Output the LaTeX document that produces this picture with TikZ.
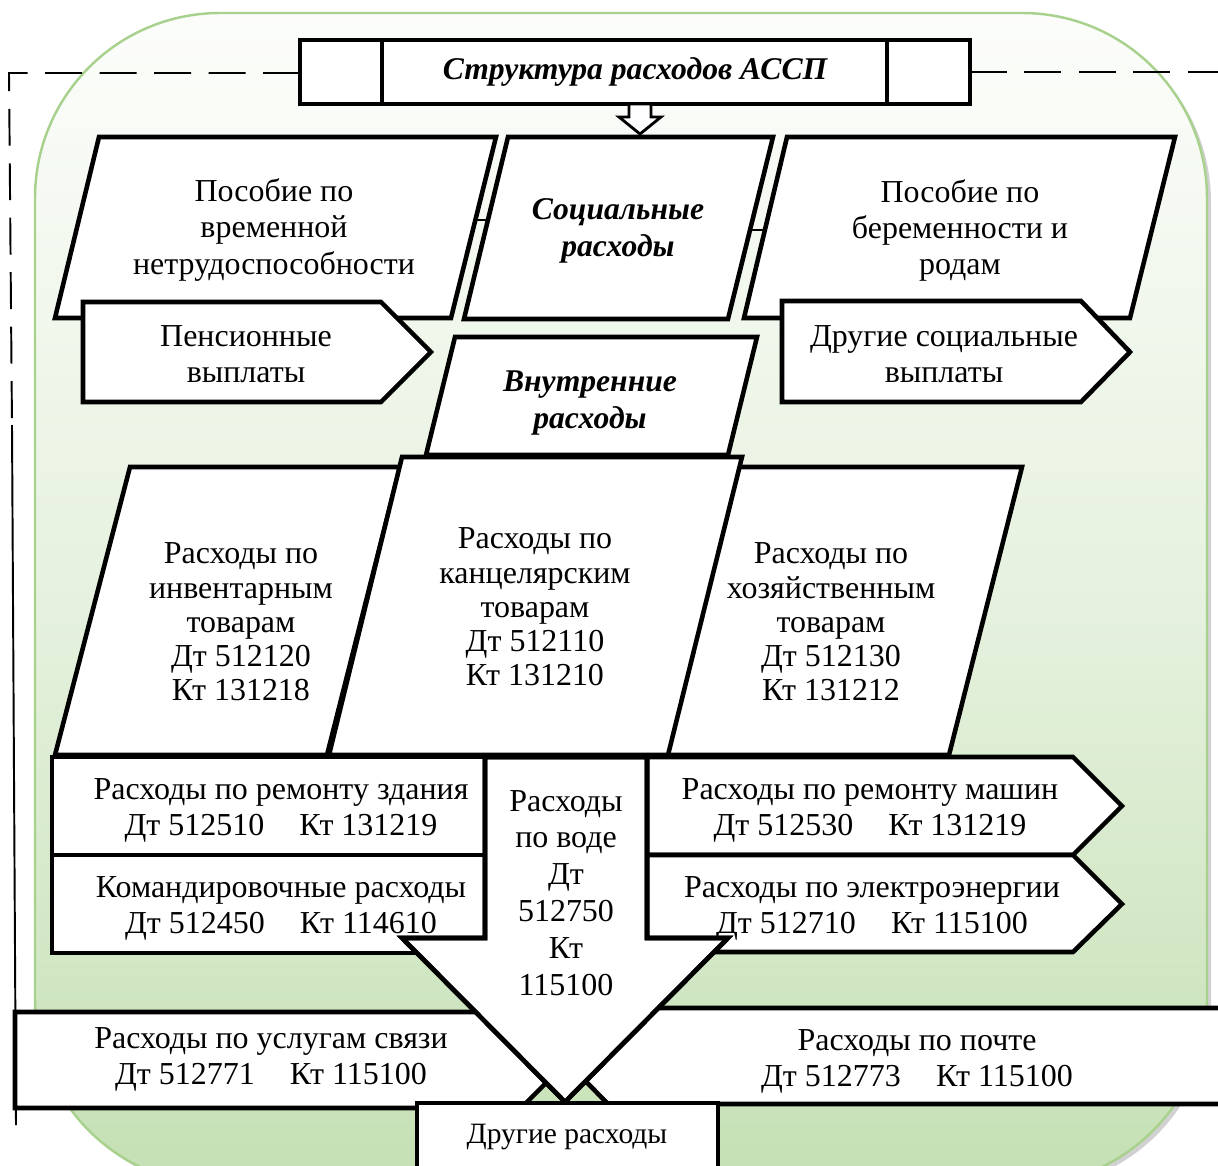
\documentclass[tikz,border=0pt]{standalone}
\usepackage{fontspec}
\setmainfont{Liberation Serif}
\definecolor{bgtop}{RGB}{252,253,251}
\definecolor{bgbot}{RGB}{197,224,180}
\definecolor{bgline}{RGB}{169,209,142}
\newcommand{\dtgap}{\hspace{1.1em}}
\newcommand{\waterarrow}{(485,757) -- (647,757) -- (647,938) -- (728,938) -- (565,1102) -- (402,938) -- (485,938) -- cycle}
\tikzset{
    blk/.style={draw=black, fill=white, line width=2.6pt, line join=miter},
    lbl/.style={align=center, inner sep=0pt, font=\fontsize{18.2}{20.5}\selectfont},
    lblt/.style={lbl, font=\fontsize{18.2}{19.5}\selectfont},
    lblw/.style={lbl, font=\fontsize{18.2}{21}\selectfont},
    head/.style={align=center, inner sep=0pt, font=\fontsize{18}{21.5}\selectfont\bfseries\itshape},
    frame/.style={line width=1.1pt, dash pattern=on 21pt off 10pt},
}

\begin{document}
\begin{tikzpicture}[x=0.02cm, y=-0.02cm]
    \clip (0,0) rectangle (1218,1166);
    % fond vert
    \fill[black!18, rounded corners=3.7cm] (39,17) rectangle (1211,1189);
    \shade[top color=bgtop, bottom color=bgbot, middle color=bgbot!40!bgtop, rounded corners=3.7cm] (35,13) rectangle (1207,1185);
    \draw[bgline, line width=1.4pt, rounded corners=3.7cm] (35,13) rectangle (1207,1185);
    % cadre en tirets
    \coordinate (fl) at (300,73);
    \coordinate (fr) at (970,72);
    \draw[frame] (fl) -- (9,73) -- (12,425);
    \draw[line width=1.1pt] (12,425) -- (16,1125);
    \draw[frame] (fr) -- (1218,72);
    % titre
    \draw[blk] (300,40) rectangle (970,104);
    \draw[blk] (382,40) -- (382,104);
    \draw[blk] (887,40) -- (887,104);
    % petite flèche
    \draw[line width=1.6pt, fill=white, line join=miter] (629,104) -- (651,104) -- (651,117) -- (661,117) -- (640,134) -- (619,117) -- (629,117) -- cycle;
    % liaisons fines
    \draw[line width=0.9pt] (474,220) -- (490,220);
    \draw[line width=0.9pt] (750,230) -- (766,230);
    % dépenses sociales
    \draw[blk] (99,137) -- (496,137) -- (451,318) -- (55,318) -- cycle;
    \draw[blk] (508,137) -- (773,137) -- (728,319) -- (464,319) -- cycle;
    \draw[blk] (787,137) -- (1175,137) -- (1130,318) -- (744,318) -- cycle;
    \draw[blk] (83,302) -- (381,302) -- (431,352) -- (381,402) -- (83,402) -- cycle;
    \draw[blk] (782,301) -- (1081,301) -- (1130,352) -- (1081,402) -- (782,402) -- cycle;
    % dépenses internes
    \draw[blk] (455,337) -- (757,337) -- (728,455) -- (426,455) -- cycle;
    \draw[blk] (130,467) -- (400,467) -- (327,755) -- (55,755) -- cycle;
    \draw[blk] (738,467) -- (1022,467) -- (949,755) -- (667,755) -- cycle;
    \draw[blk] (402,457) -- (742,457) -- (668,755) -- (329,755) -- cycle;
    \draw[blk] (52,757) rectangle (485,855);
    \draw[blk] (52,855) rectangle (485,953);
    \draw[blk] (647,757) -- (1073,757) -- (1122,806) -- (1073,855) -- (647,855) -- cycle;
    \draw[blk] (647,855) -- (1073,855) -- (1122,904) -- (1073,952) -- (647,952) -- cycle;
    \draw[blk] (15,1012) -- (521,1012) -- (569,1060) -- (521,1108) -- (15,1108) -- cycle;
    \draw[blk] (1240,1008) -- (608,1008) -- (561,1056) -- (608,1104) -- (1240,1104) -- cycle;
    \draw[blk] \waterarrow;
    \draw[blk] (417,1103) rectangle (718,1200);
    % textes
    \node[head] (ttl) at (635,72) {Структура расходов АССП};
    \node[lbl] (sick) at (274,230) {Пособие по\\временной\\нетрудоспособности};
    \node[head] (soc) at (618,231) {Социальные\\расходы};
    \node[lbl] (matern) at (960,230) {Пособие по\\беременности и\\родам};
    \node[lbl] (pens) at (246,354) {Пенсионные\\выплаты};
    \node[lbl] (othsoc) at (944,354) {Другие социальные\\выплаты};
    \node[head] (intern) at (590,403) {Внутренние\\расходы};
    \node[lblt] (inv) at (241,622) {Расходы по\\инвентарным\\товарам\\Дт 512120\\Кт 131218};
    \node[lblt] (office) at (535,607) {Расходы по\\канцелярским\\товарам\\Дт 512110\\Кт 131210};
    \node[lblt] (house) at (831,622) {Расходы по\\хозяйственным\\товарам\\Дт 512130\\Кт 131212};
    \node[lbl] (build) at (281,810) {Расходы по ремонту здания\\Дт 512510\dtgap Кт 131219};
    \node[lbl] (trip) at (281,908) {Командировочные расходы\\Дт 512450\dtgap Кт 114610};
    \node[lbl] (cars) at (870,810) {Расходы по ремонту машин\\Дт 512530\dtgap Кт 131219};
    \node[lbl] (power) at (872,908) {Расходы по электроэнергии\\Дт 512710\dtgap Кт 115100};
    \node[lblw] (water) at (566,893) {Расходы\\по воде\\Дт\\512750\\Кт\\115100};
    \node[lbl] (phone) at (271,1059) {Расходы по услугам связи\\Дт 512771\dtgap Кт 115100};
    \node[lbl] (post) at (917,1061) {Расходы по почте\\Дт 512773\dtgap Кт 115100};
    \node[lbl, font=\fontsize{16.8}{19}\selectfont] (other) at (567,1137) {Другие расходы};
    % contour de la flèche par-dessus
    \draw[blk, fill=none] \waterarrow;
\end{tikzpicture}
\end{document}
